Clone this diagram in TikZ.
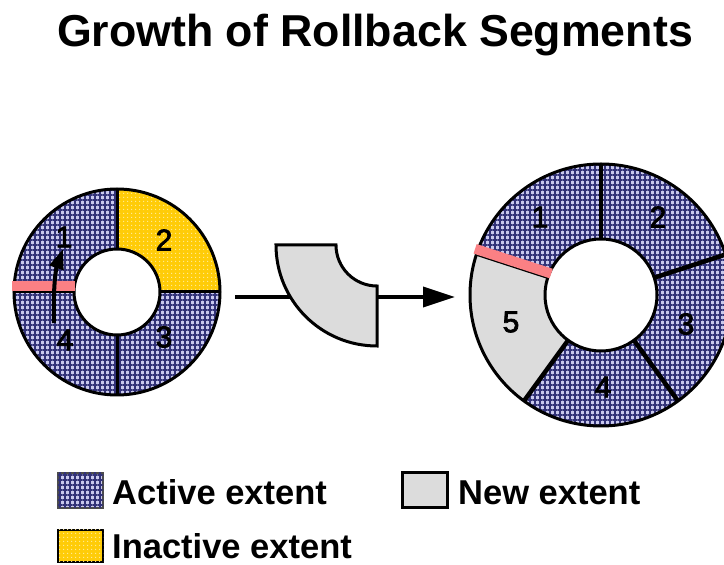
\documentclass[tikz,border=0pt]{standalone}
\usepackage{fontspec}
\setmainfont{Liberation Sans}
\newfontfamily\digitfont[RawFeature={embolden=2.5}]{Liberation Sans}
\usetikzlibrary{patterns.meta,arrows.meta}
\definecolor{lav}{RGB}{200,200,236}
\definecolor{navy}{RGB}{50,50,120}
\definecolor{gold}{RGB}{255,204,8}
\definecolor{golddot}{RGB}{255,238,160}
\definecolor{newgray}{RGB}{220,220,220}
\definecolor{pinkbar}{RGB}{250,128,132}
\tikzset{
  active/.style={fill=lav,
    postaction={pattern={Lines[distance=5pt,line width=2pt]},pattern color=navy},
    postaction={pattern={Lines[distance=5pt,angle=90,line width=2pt]},pattern color=navy}},
  inactive/.style={fill=gold,
    postaction={pattern={Dots[distance=4pt,radius=0.8pt]},pattern color=golddot}},
  newext/.style={fill=newgray},
  outline/.style={draw=black,line width=3pt},
  divider/.style={draw=black,line width=3pt},
  thickdiv/.style={draw=black,line width=4.5pt},
  pinkband/.style={fill=pinkbar},
  segnum/.style={font=\digitfont\fontsize{30}{32}\selectfont,inner sep=0pt},
  legtext/.style={font=\fontsize{34.5}{38}\selectfont\bfseries,anchor=base west,inner sep=0pt,text depth=0pt},
  swatch/.style={minimum width=45pt,minimum height=35pt,inner sep=0pt,line width=2.5pt},
}
\begin{document}
\begin{tikzpicture}[x=1pt,y=1pt]
\useasboundingbox (0,0) rectangle (724,565);
\begin{scope}
\clip (0,0) rectangle (724,565);

% ---------- middle arrow (behind the new extent) ----------
\coordinate (m1) at (235,268);
\coordinate (m2) at (455,268);
\draw[line width=3.5pt,-{Triangle[length=32pt,width=20pt]}] (m1) -- (m2);

% ---------- new extent piece ----------
\begin{scope}[shift={(377,320)}]
  \path[newext,outline] (180:101) arc[start angle=180,end angle=270,radius=101]
     -- (270:41) arc[start angle=270,end angle=180,radius=41] -- cycle;
\end{scope}

% ---------- left ring ----------
\begin{scope}[shift={(117,273)}]
  \path[active] (90:103) arc[start angle=90,end angle=180,radius=103]
     -- (180:43) arc[start angle=180,end angle=90,radius=43] -- cycle;
  \path[inactive] (0:103) arc[start angle=0,end angle=90,radius=103]
     -- (90:43) arc[start angle=90,end angle=0,radius=43] -- cycle;
  \path[active] (-90:103) arc[start angle=-90,end angle=0,radius=103]
     -- (0:43) arc[start angle=0,end angle=-90,radius=43] -- cycle;
  \path[active] (180:103) arc[start angle=180,end angle=270,radius=103]
     -- (270:43) arc[start angle=270,end angle=180,radius=43] -- cycle;
  \draw[divider] (-103,0) -- (-43,0) (43,0) -- (103,0);
  \draw[divider] (0,-103) -- (0,-43) (0,43) -- (0,103);
  \draw[outline] (0,0) circle[radius=103];
  \draw[outline,fill=white] (0,0) circle[radius=43];
  \fill[pinkband] (-105,1) rectangle (-42,11);
\end{scope}
\coordinate (la1) at (54,242);
\coordinate (la2) at (63,316);
\draw[line width=4pt,-{Triangle[length=20pt,width=14pt]}] (la1) .. controls (53,280) and (56,296) .. (la2);

% ---------- right ring ----------
\begin{scope}[shift={(601,270)}]
  \path[active] (90:131) arc[start angle=90,end angle=162,radius=131]
     -- (162:56) arc[start angle=162,end angle=90,radius=56] -- cycle;
  \path[active] (18:131) arc[start angle=18,end angle=90,radius=131]
     -- (90:56) arc[start angle=90,end angle=18,radius=56] -- cycle;
  \path[active] (-54:131) arc[start angle=-54,end angle=18,radius=131]
     -- (18:56) arc[start angle=18,end angle=-54,radius=56] -- cycle;
  \path[active] (-126:131) arc[start angle=-126,end angle=-54,radius=131]
     -- (-54:56) arc[start angle=-54,end angle=-126,radius=56] -- cycle;
  \path[newext] (162:131) arc[start angle=162,end angle=234,radius=131]
     -- (234:56) arc[start angle=234,end angle=162,radius=56] -- cycle;
  \draw[thickdiv] (90:56) -- (90:131);
  \draw[thickdiv] (18:56) -- (18:131);
  \draw[thickdiv] (-54:56) -- (-54:131);
  \draw[thickdiv] (-126:56) -- (-126:131);
  \draw[divider,line width=2.5pt] (162:56) -- (162:131);
  \draw[outline] (0,0) circle[radius=131];
  \draw[outline,fill=white] (0,0) circle[radius=56];
  \begin{scope}[rotate=162]
    \fill[pinkband] (54,-10) rectangle (134,0);
  \end{scope}
\end{scope}
\end{scope}

% ---------- labels ----------
\node[segnum] (l1) at (64,328) {1};
\node[segnum] (l2) at (164,325) {2};
\node[segnum] (l3) at (164,228) {3};
\node[segnum] (l4) at (65,225) {4};
\node[segnum] (r1) at (540,348) {1};
\node[segnum] (r2) at (658,348) {2};
\node[segnum] (r3) at (686,241) {3};
\node[segnum] (r4) at (603,178) {4};
\node[segnum] (r5) at (511,243) {5};

% ---------- title ----------
\node[font=\fontsize{44.7}{50}\selectfont\bfseries,anchor=base,inner sep=0pt] (title) at (375,518) {Growth of Rollback Segments};

% ---------- legend ----------
\node[swatch,active,draw=black!70] (swA) at (80.5,74.5) {};
\node[legtext] (txA) at (112,60) {Active extent};
\node[swatch,newext,draw=black,line width=3pt] (swN) at (425,74.5) {};
\node[legtext] (txN) at (458,60) {New extent};
\node[swatch,inactive,draw=black,minimum height=32pt] (swI) at (80.5,19) {};
\node[legtext] (txI) at (112,6) {Inactive extent};
\end{tikzpicture}
\end{document}
